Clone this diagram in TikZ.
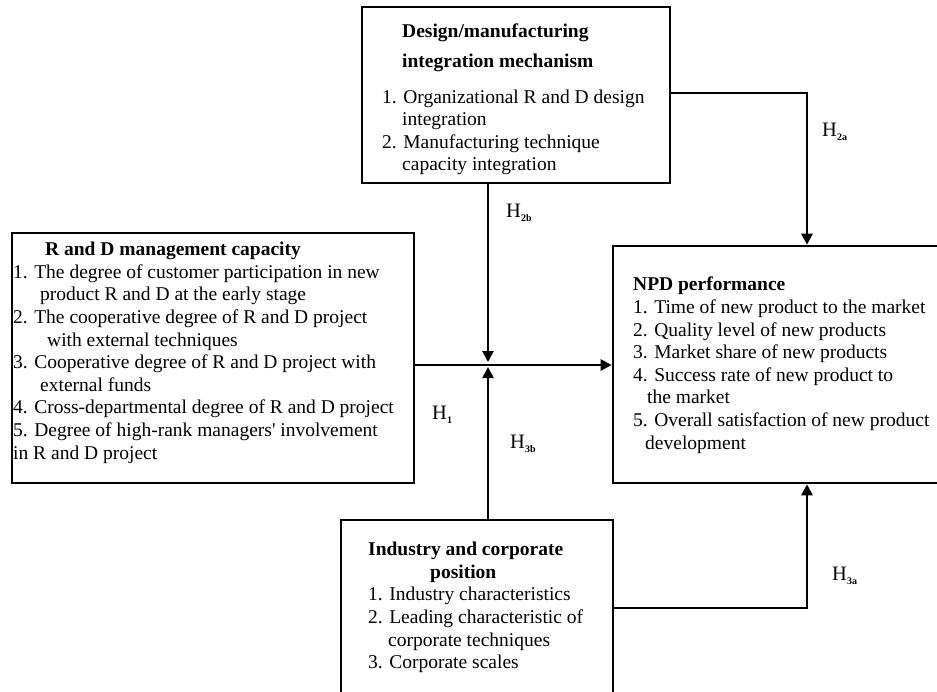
\documentclass[tikz,border=0pt]{standalone}
\usepackage{fontspec}
\setmainfont{Liberation Serif}
\usetikzlibrary{arrows.meta}
\newcommand{\Hs}[1]{H\raisebox{-0.45ex}{\fontsize{10}{10}\selectfont\bfseries #1}}
\begin{document}
\begin{tikzpicture}[x=1pt,y=-1pt,
  box/.style={draw,line width=2.6pt,inner sep=0pt},
  txt/.style={anchor=north west,align=left,inner sep=0pt,font=\fontsize{19.5}{22.6}\selectfont},
  arr/.style={line width=2.6pt,-{Triangle[length=11pt,width=11pt]}},
  hl/.style={anchor=west,inner sep=0pt,font=\fontsize{20.5}{22}\selectfont}]
\useasboundingbox (0,0) rectangle (937,691);

% boxes
\node[box,minimum width=308pt,minimum height=176pt] (top) at (516,95) {};
\node[box,minimum width=402pt,minimum height=250pt] (left) at (213,358) {};
\node[box,minimum width=340pt,minimum height=237pt] (npd) at (783,364.5) {};
\node[box,minimum width=272pt,minimum height=185pt] (bot) at (477,612.5) {};

% texts
\node[txt] (toptxt) at (382,24) {\hspace*{20pt}\textbf{Design/manufacturing}\\[7pt]\hspace*{20pt}\textbf{integration mechanism}\\[13pt]1. Organizational R and D design\\\hspace*{20pt}integration\\2. Manufacturing technique\\\hspace*{20pt}capacity integration};

\node[txt] (lefttxt) at (13,242) {\hspace*{32pt}\textbf{R and D management capacity}\\1. The degree of customer participation in new\\\hspace*{27pt}product R and D at the early stage\\2. The cooperative degree of R and D project\\\hspace*{34pt}with external techniques\\3. Cooperative degree of R and D project with\\\hspace*{27pt}external funds\\4. Cross-departmental degree of R and D project\\5. Degree of high-rank managers\textquotesingle{} involvement\\in R and D project};

\node[txt] (npdtxt) at (633,277) {\textbf{NPD performance}\\1. Time of new product to the market\\2. Quality level of new products\\3. Market share of new products\\4. Success rate of new product to\\\hspace*{14pt}the market\\5. Overall satisfaction of new product\\\hspace*{12pt}development};

\node[txt] (bottxt) at (368,542) {\textbf{Industry and corporate}\\\hspace*{62pt}\textbf{position}\\1. Industry characteristics\\2. Leading characteristic of\\\hspace*{20pt}corporate techniques\\3. Corporate scales};

% junction and corners
\coordinate (j) at (488,365);
\coordinate (c2a) at (807,93);
\coordinate (c3a) at (807,608);

% connectors
\draw[arr] (left.east |- j) -- (npd.west |- j);
\draw[arr,shorten >=3pt] (top.south -| j) -- (j);
\draw[arr,shorten >=2pt] (bot.north -| j) -- (j);
\draw[arr] (top.east |- c2a) -- (c2a) -- (npd.north -| c2a);
\draw[arr] (bot.east |- c3a) -- (c3a) -- (npd.south -| c3a);

% labels
\node[hl] (h2a) at (822,132) {\Hs{2a}};
\node[hl] (h2b) at (506,213) {\Hs{2b}};
\node[hl] (h1) at (432,415) {\Hs{1}};
\node[hl] (h3b) at (510,444) {\Hs{3b}};
\node[hl] (h3a) at (832,576) {\Hs{3a}};
\end{tikzpicture}
\end{document}
